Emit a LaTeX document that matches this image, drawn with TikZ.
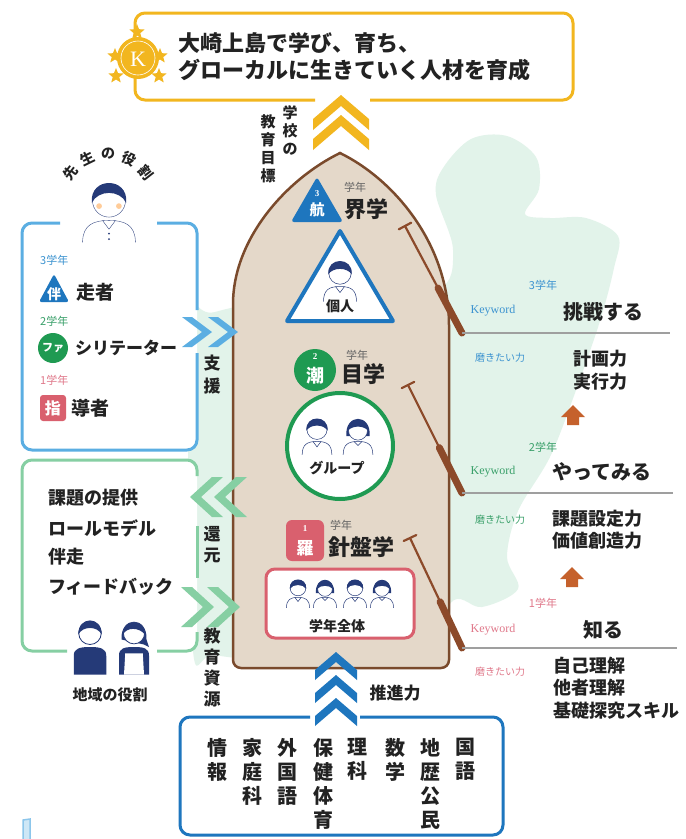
\documentclass[tikz,border=0pt]{standalone}
\usepackage{fontspec}
\newfontfamily\jp{Noto Sans CJK JP}
\newfontfamily\lserif{Liberation Serif}
\usetikzlibrary{shapes.geometric,calc}

\definecolor{gold}{HTML}{F2B61F}
\definecolor{skyb}{HTML}{5BAEE2}
\definecolor{deepb}{HTML}{1E76BE}
\definecolor{leaf}{HTML}{1F9A52}
\definecolor{mint}{HTML}{86CFA3}
\definecolor{rose}{HTML}{D9606E}
\definecolor{bark}{HTML}{7A4A2C}
\definecolor{oarc}{HTML}{8C4A2A}
\definecolor{hull}{HTML}{E4D8C9}
\definecolor{isle}{HTML}{E2F3EA}
\definecolor{navy}{HTML}{253A78}
\definecolor{rust}{HTML}{C5612C}
\definecolor{ink}{HTML}{222222}
\definecolor{tblue}{HTML}{3C93D0}
\definecolor{tgreen}{HTML}{3AA06A}
\definecolor{tpink}{HTML}{E0788A}

\tikzset{
  jpf/.style={font=\jp\bfseries\fontsize{#1}{#1}\selectfont, text=ink, inner sep=0},
  vcol/.style 2 args={font=\jp\bfseries\fontsize{#1}{#2}\selectfont, text=ink, align=center, anchor=north, inner sep=0},
  small/.style={font=\jp\fontsize{11}{11}\selectfont, inner sep=0},
  kw/.style={font=\lserif\fontsize{12}{12}\selectfont, inner sep=0},
  frame/.style={line width=3, rounded corners=10},
  oar/.style={oarc, line width=2.2},
  blade/.style={oarc, line width=7, line cap=round},
  rule/.style={gray!75, line width=1.2},
  kid/.pic={
    \draw[navy, line width=0.5, fill=white] (-11,17) .. controls (-11,9) and (-7,7) .. (0,7) .. controls (7,7) and (11,9) .. (11,17);
    \draw[navy, line width=0.5] (-3,7) -- (0,11) -- (3,7);
    \draw[navy, line width=0.5, fill=white] (0,-2) circle (7.5);
    \fill[navy] (-7.8,-1) .. controls (-9,-13) and (9,-13) .. (7.8,-1) .. controls (5,-6) and (-5,-6) .. cycle;
  },
  lass/.pic={
    \draw[navy, line width=0.5, fill=white] (-11,17) .. controls (-11,9) and (-7,7) .. (0,7) .. controls (7,7) and (11,9) .. (11,17);
    \draw[navy, line width=0.5] (-3,7) -- (0,10) -- (3,7);
    \fill[navy] (-8.6,3) .. controls (-10,-14) and (10,-14) .. (8.6,3) -- cycle;
    \draw[navy, line width=0.5, fill=white] (0,-1) circle (7);
    \fill[navy] (-7.5,-1) .. controls (-8,-11) and (8,-11) .. (7.5,-1) .. controls (4,-5) and (-4,-5) .. cycle;
  },
  sensei/.pic={
    \draw[navy, line width=0.35, fill=white] (-12,17) .. controls (-12,9) and (-7,7) .. (0,7) .. controls (7,7) and (12,9) .. (12,17);
    \draw[navy, line width=0.35] (-3,7) -- (0,11) -- (3,7);
    \fill[navy] (0,13) circle (0.5) (0,15.5) circle (0.5);
    \draw[navy, line width=0.35, fill=white] (0,-2) circle (7.5);
    \fill[navy] (-7.8,-1) .. controls (-9,-13) and (9,-13) .. (7.8,-1) .. controls (5,-7) and (-5,-7) .. cycle;
    \fill[orange!40] (-4.5,0.5) circle (1.3) (4.5,0.5) circle (1.3);
  },
  man/.pic={
    \fill[navy] (-13,30) -- (-13,15) .. controls (-13,9) and (-8,8) .. (0,8) .. controls (8,8) and (13,9) .. (13,15) -- (13,30) -- cycle;
    \draw[navy, line width=0.8, fill=white] (0,-3) circle (9);
    \fill[navy] (-9.3,-2) .. controls (-10,-17) and (10,-17) .. (9.3,-2) .. controls (6,-9) and (-6,-9) .. cycle;
  },
  woman/.pic={
    \fill[navy] (-12,30) -- (-12,15) .. controls (-12,9) and (-8,8) .. (0,8) .. controls (8,8) and (12,9) .. (12,15) -- (12,30) -- cycle;
    \fill[white] (-7,13) -- (7,13) -- (8,30) -- (-8,30) -- cycle;
    \fill[navy] (-10,2) .. controls (-11,-17) and (11,-17) .. (10,2) -- (12,8) -- (8,6) -- cycle;
    \draw[navy, line width=0.8, fill=white] (0,-3) circle (8.5);
    \fill[navy] (-8.8,-2) .. controls (-9,-15) and (9,-15) .. (8.8,-2) .. controls (4,-8) and (-6,-8) .. cycle;
  }
}

\begin{document}
\begin{tikzpicture}[x=1pt,y=-1pt]
\useasboundingbox (0,0) rectangle (686,839);
\fill[white] (0,0) rectangle (686,839);

% island behind everything
\fill[isle] plot[smooth cycle, tension=0.55] coordinates {
  (443,168) (471,139) (507,136) (536,157) (539,189) (525,214) (550,218)
  (586,218) (618,236) (614,268) (600,321) (575,393) (550,457) (518,511)
  (507,557) (518,589) (482,607) (454,600) (420,640) (300,660) (215,655)
  (192,640) (190,330) (215,312) (330,290) (436,290) (453,250) (436,195)};

% goal box
\draw[gold, frame] (315,100) -- (135,100) -- (135,13) -- (573,13) -- (573,100) -- (370,100);
\foreach \i/\p in {1/{(137,32)}, 2/{(115,56)}, 3/{(160,56)}, 4/{(116,76)}, 5/{(159,76)}}
  \node[star, star points=5, star point ratio=2.3, fill=gold, minimum size=16, inner sep=0] (st\i) at \p {};
\fill[gold] (138,58) circle (21);
\draw[white, line width=0.6] (138,58) circle (17);
\node[font=\lserif\fontsize{22}{22}\selectfont, text=white, inner sep=0] (kay) at (138,59) {K};
\node[jpf=22, anchor=west] (goal1) at (178,43) {大崎上島で学び、育ち、};
\node[jpf=22, anchor=west] (goal2) at (178,70) {グローカルに生きていく人材を育成};

% yellow chevrons
\foreach \a in {95,115}
  \fill[gold] (313,\a+24) -- (341,\a) -- (369,\a+24) -- (369,\a+35) -- (341,\a+11) -- (313,\a+35) -- cycle;
\node[vcol={15}{18}] (mokuA) at (290,105) {学\\校\\の};
\node[vcol={15}{18}] (mokuB) at (268,114) {教\\育\\目\\標};

% teacher box
\fill[white, rounded corners=10] (22,223) rectangle (197,450);
\draw[skyb, frame] (60,223) -- (22,223) -- (22,450) -- (197,450) -- (197,353);
\draw[skyb, frame] (197,310) -- (197,223) -- (157,223);
\pic[scale=2.2] at (109,205) {sensei};
\foreach \c/\ang [count=\k] in {先/142, 生/116, の/90, 役/64, 割/38}
  \node[jpf=14, rotate=\ang-90] (role\k) at ($(108,202)+(\ang:48 and -48)$) {\c};

\node[small, text=tblue, anchor=west] (t3) at (40,260) {3学年};
\fill[deepb, rounded corners=2.5] (54,274) -- (69,302) -- (39,302) -- cycle;
\node[jpf=14, text=white] (tban) at (54,294) {伴};
\node[jpf=19, anchor=west] (tban2) at (76,292) {走者};
\node[small, text=tgreen, anchor=west] (t2) at (40,321) {2学年};
\fill[leaf] (53,348) circle (15);
\node[jpf=11, text=white] (tfa) at (53,348) {ファ};
\node[jpf=17, anchor=west] (tfa2) at (75,348) {シリテーター};
\node[small, text=tpink, anchor=west] (t1) at (40,380) {1学年};
\fill[rose, rounded corners=3] (40,395) rectangle (66,421);
\node[jpf=16, text=white] (tshi) at (53,408) {指};
\node[jpf=19, anchor=west] (tshi2) at (71,408) {導者};

% community box
\fill[white, rounded corners=10] (22,460) rectangle (197,651);
\draw[mint, frame] (67,651) -- (22,651) -- (22,460) -- (197,460) -- (197,476);
\draw[mint, line width=3] (197,526) -- (197,578);
\draw[mint, frame] (197,632) -- (197,651) -- (157,651);
\node[jpf=18, anchor=west] (c1) at (48,498) {課題の提供};
\node[jpf=18, anchor=west] (c2) at (48,528) {ロールモデル};
\node[jpf=18, anchor=west] (c3) at (48,557) {伴走};
\node[jpf=18, anchor=west] (c4) at (48,587) {フィードバック};
\pic[scale=1.25] at (90,637) {man};
\pic[scale=1.25] at (134,637) {woman};
\node[jpf=15] (chiiki) at (110,695) {地域の役割};

% hull
\draw[bark, line width=2.5, fill=hull] (340,153) .. controls (395,180) and (449,245) .. (449,325)
  [rounded corners=8] -- (449,668) -- (233,668) -- (233,312) [sharp corners]
  .. controls (233,240) and (285,180) .. (340,153) -- cycle;

% side chevrons
\foreach \x in {212,238}
  \fill[skyb] (\x-20,317) -- (\x,332) -- (\x-20,347) -- (\x-30,347) -- (\x-10,332) -- (\x-30,317) -- cycle;
\foreach \x in {190,214}
  \fill[mint] (\x+22,477) -- (\x,497) -- (\x+22,517) -- (\x+33,517) -- (\x+11,497) -- (\x+33,477) -- cycle;
\foreach \x in {214,240}
  \fill[mint] (\x-22,587) -- (\x,607) -- (\x-22,627) -- (\x-33,627) -- (\x-11,607) -- (\x-33,587) -- cycle;
\node[vcol={17}{23}] (shien) at (212,355) {支\\援};
\node[vcol={17}{21}] (kangen) at (212,526) {還\\元};
\node[vcol={17}{21}] (shigen) at (212,628) {教\\育\\資\\源};

% oars
\foreach \n/\ax/\ay/\bx/\by in {1/405/226/462/333, 2/408/385/462/493, 3/410/538/462/648} {
  \coordinate (oa\n) at (\ax,\ay);
  \coordinate (ob\n) at (\bx,\by);
  \draw[oar] (oa\n) -- (ob\n);
  \draw[blade] ($(oa\n)!0.58!(ob\n)$) -- (ob\n);
  \draw[oar, line cap=round] ($(oa\n)!7pt!90:(ob\n)$) -- ($(oa\n)!7pt!-90:(ob\n)$);
}
\draw[rule] (ob1) -- (670,333);
\draw[rule] (ob2) -- (673,493);
\draw[rule] (ob3) -- (677,648);

% grade 3
\fill[deepb, rounded corners=3] (317,177) -- (343,222) -- (291,222) -- cycle;
\node[font=\lserif\bfseries\fontsize{9}{9}\selectfont, text=white, inner sep=0] (n3) at (317,194) {3};
\node[jpf=15, text=white] (b3) at (317,210) {航};
\node[small, text=ink!70] (g3s) at (355,187) {学年};
\node[jpf=22] (g3) at (366,209) {界学};
\draw[deepb, line width=4, line join=round, fill=white] (340,231) -- (393,321) -- (287,321) -- cycle;
\pic[scale=1.5] at (340,276) {kid};
\node[jpf=14] (kojin) at (340,306) {個人};

% grade 2
\fill[leaf] (315,370) circle (21);
\node[font=\lserif\bfseries\fontsize{9}{9}\selectfont, text=white, inner sep=0] (n2) at (315,357) {2};
\node[jpf=18, text=white] (b2) at (315,376) {潮};
\node[small, text=ink!70] (g2s) at (357,355) {学年};
\node[jpf=22] (g2) at (363,374) {目学};
\draw[leaf, line width=4, fill=white] (340,446) circle (53);
\pic[scale=1.35] at (317,432) {kid};
\pic[scale=1.35] at (358,432) {lass};
\node[jpf=14] (group) at (337,468) {グループ};

% grade 1
\fill[rose, rounded corners=6] (286,520) rectangle (324,561);
\node[font=\lserif\bfseries\fontsize{9}{9}\selectfont, text=white, inner sep=0] (n1) at (305,529) {1};
\node[jpf=17, text=white] (b1) at (305,548) {羅};
\node[small, text=ink!70] (g1s) at (341,525) {学年};
\node[jpf=22] (g1) at (361,547) {針盤学};
\draw[rose, line width=3, rounded corners=9, fill=white] (266,569) rectangle (414,638);
\foreach \x/\w in {298/kid, 325/lass, 355/kid, 382/lass}
  \pic[scale=1.05] at (\x,590) {\w};
\node[jpf=14] (zentai) at (337,626) {学年全体};

% right column
\node[small, text=tblue] (r3) at (543,285) {3学年};
\node[kw, text=tblue] (k3) at (493,311) {Keyword};
\node[jpf=20] (w3) at (603,312) {挑戦する};
\node[small, text=tblue, font=\jp\fontsize{10}{10}\selectfont] (m3) at (500,358) {磨きたい力};
\node[jpf=18, anchor=west, align=left, font=\jp\bfseries\fontsize{18}{23}\selectfont] (p3) at (573,370) {計画力\\実行力};
\fill[rust] (561,417) -- (573,405) -- (585,417) -- (579,417) -- (579,425) -- (567,425) -- (567,417) -- cycle;

\node[small, text=tgreen] (r2) at (543,447) {2学年};
\node[kw, text=tgreen] (k2) at (493,472) {Keyword};
\node[jpf=20] (w2) at (602,472) {やってみる};
\node[small, text=tgreen, font=\jp\fontsize{10}{10}\selectfont] (m2) at (500,520) {磨きたい力};
\node[jpf=18, anchor=west, align=left, font=\jp\bfseries\fontsize{18}{22}\selectfont] (p2) at (552,530) {課題設定力\\価値創造力};
\fill[rust] (560,579) -- (572,567) -- (584,579) -- (578,579) -- (578,587) -- (566,587) -- (566,579) -- cycle;

\node[small, text=tpink] (r1) at (543,603) {1学年};
\node[kw, text=tpink] (k1) at (493,630) {Keyword};
\node[jpf=20] (w1) at (603,630) {知る};
\node[small, text=tpink, font=\jp\fontsize{10}{10}\selectfont] (m1) at (500,672) {磨きたい力};
\node[jpf=18, anchor=west, align=left, font=\jp\bfseries\fontsize{18}{22.5}\selectfont] (p1) at (553,688) {自己理解\\他者理解\\基礎探究スキル};

% subjects box
\foreach \a in {652,675,698}
  \fill[deepb] (315,\a+18) -- (336,\a) -- (357,\a+18) -- (357,\a+28) -- (336,\a+10) -- (315,\a+28) -- cycle;
\node[jpf=17] (suishin) at (395,693) {推進力};
\draw[deepb, frame] (310,717) -- (180,717) -- (180,835) -- (503,835) -- (503,717) -- (360,717);
\foreach \x/\s [count=\k] in {465/{国\\語}, 430/{地\\歴\\公\\民}, 395/{数\\学}, 357/{理\\科},
    323/{保\\健\\体\\育}, 287/{外\\国\\語}, 252/{家\\庭\\科}, 217/{情\\報}}
  \node[vcol={20}{24}] (subj\k) at (\x,738) {\s};

% small bottle at lower left
\draw[skyb!70, line width=1.5, fill=skyb!30] (23,839) -- (23,820) -- (30,819) -- (30,839);
\end{tikzpicture}
\end{document}
